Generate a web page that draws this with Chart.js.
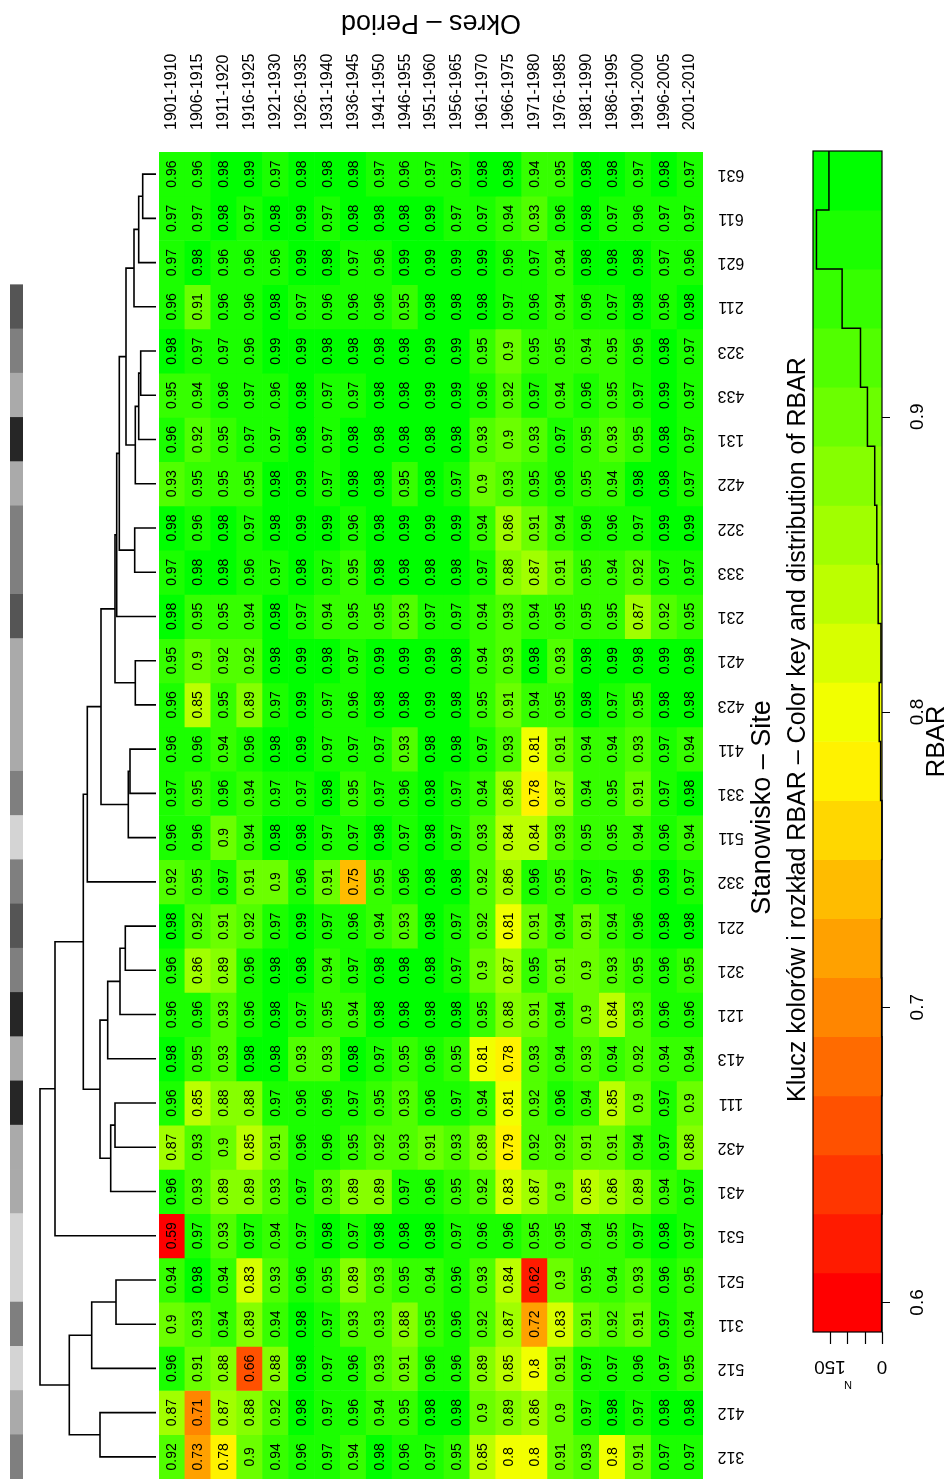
<!DOCTYPE html>
<html>
<head>
<meta charset="utf-8">
<title>RBAR heatmap</title>
<script src="https://cdn.jsdelivr.net/npm/chart.js@4.4.0/dist/chart.umd.min.js"></script>
<style>
  html, body { margin: 0; padding: 0; background: #fff; }
  #page { position: relative; width: 951px; height: 1479px; overflow: hidden; background: #fff; }
  .box { position: absolute; }
</style>
</head>
<body>
<div id="page">
  <div class="box" style="left:10px;top:152px;width:13px;height:1327px"><canvas id="sideChart"></canvas></div>
  <div class="box" style="left:0;top:140px;width:165px;height:1339px"><canvas id="dendroChart"></canvas></div>
  <div class="box" style="left:150px;top:0;width:801px;height:1479px"><canvas id="heatChart"></canvas></div>
  <div class="box" style="left:770px;top:130px;width:181px;height:1280px"><canvas id="keyChart"></canvas></div>
</div>
<script>
// --- Data ---
const periods = ['1901-1910', '1906-1915', '1911-1920', '1916-1925', '1921-1930', '1926-1935', '1931-1940',
    '1936-1945', '1941-1950', '1946-1955', '1951-1960', '1956-1965', '1961-1970', '1966-1975', '1971-1980',
    '1976-1985', '1981-1990', '1986-1995', '1991-2000', '1996-2005', '2001-2010'];

// sites in dendrogram order, top to bottom
const sites = ['631', '611', '621', '211', '323', '433', '131', '422', '322', '333', '231', '421', '423', '411', '331',
    '511', '332', '221', '321', '121', '413', '111', '432', '431', '531', '521', '311', '512', '412', '312'];

// RBAR per site, one value per period
const s631 = [0.96, 0.96, 0.98, 0.99, 0.97, 0.98, 0.98, 0.98, 0.97, 0.96, 0.97, 0.97, 0.98, 0.98, 0.94, 0.95, 0.98, 0.98, 0.97, 0.98, 0.97];
const s611 = [0.97, 0.97, 0.98, 0.97, 0.98, 0.99, 0.97, 0.98, 0.98, 0.98, 0.99, 0.97, 0.97, 0.94, 0.93, 0.96, 0.98, 0.97, 0.96, 0.97, 0.97];
const s621 = [0.97, 0.98, 0.96, 0.96, 0.96, 0.99, 0.98, 0.97, 0.96, 0.99, 0.99, 0.99, 0.99, 0.96, 0.97, 0.94, 0.98, 0.98, 0.98, 0.97, 0.96];
const s211 = [0.96, 0.91, 0.96, 0.96, 0.98, 0.97, 0.96, 0.96, 0.96, 0.95, 0.98, 0.98, 0.98, 0.97, 0.96, 0.94, 0.96, 0.97, 0.98, 0.96, 0.98];
const s323 = [0.98, 0.97, 0.97, 0.96, 0.99, 0.99, 0.98, 0.98, 0.98, 0.98, 0.99, 0.99, 0.95, 0.9, 0.95, 0.95, 0.94, 0.95, 0.96, 0.98, 0.97];
const s433 = [0.95, 0.94, 0.96, 0.97, 0.96, 0.98, 0.97, 0.97, 0.98, 0.98, 0.99, 0.99, 0.96, 0.92, 0.97, 0.94, 0.96, 0.95, 0.97, 0.99, 0.97];
const s131 = [0.96, 0.92, 0.95, 0.97, 0.97, 0.98, 0.97, 0.98, 0.98, 0.98, 0.98, 0.98, 0.93, 0.9, 0.93, 0.97, 0.95, 0.93, 0.95, 0.98, 0.97];
const s422 = [0.93, 0.95, 0.95, 0.95, 0.98, 0.99, 0.97, 0.98, 0.98, 0.95, 0.98, 0.97, 0.9, 0.93, 0.95, 0.96, 0.95, 0.94, 0.98, 0.98, 0.97];
const s322 = [0.98, 0.96, 0.98, 0.97, 0.98, 0.99, 0.99, 0.96, 0.98, 0.99, 0.99, 0.99, 0.94, 0.86, 0.91, 0.94, 0.96, 0.96, 0.97, 0.99, 0.99];
const s333 = [0.97, 0.98, 0.98, 0.96, 0.97, 0.98, 0.97, 0.95, 0.98, 0.98, 0.98, 0.98, 0.97, 0.88, 0.87, 0.91, 0.95, 0.94, 0.92, 0.97, 0.97];
const s231 = [0.98, 0.95, 0.95, 0.94, 0.98, 0.97, 0.94, 0.95, 0.95, 0.93, 0.97, 0.97, 0.94, 0.93, 0.94, 0.95, 0.95, 0.95, 0.87, 0.92, 0.95];
const s421 = [0.95, 0.9, 0.92, 0.92, 0.98, 0.99, 0.98, 0.97, 0.99, 0.99, 0.99, 0.98, 0.94, 0.93, 0.98, 0.93, 0.98, 0.99, 0.98, 0.99, 0.98];
const s423 = [0.96, 0.85, 0.95, 0.89, 0.97, 0.99, 0.97, 0.96, 0.98, 0.98, 0.99, 0.98, 0.95, 0.91, 0.94, 0.95, 0.98, 0.97, 0.95, 0.98, 0.98];
const s411 = [0.96, 0.96, 0.94, 0.96, 0.98, 0.99, 0.97, 0.97, 0.97, 0.93, 0.98, 0.98, 0.97, 0.93, 0.81, 0.91, 0.94, 0.94, 0.93, 0.97, 0.94];
const s331 = [0.97, 0.95, 0.96, 0.94, 0.97, 0.97, 0.98, 0.95, 0.97, 0.96, 0.98, 0.97, 0.94, 0.86, 0.78, 0.87, 0.94, 0.95, 0.91, 0.97, 0.98];
const s511 = [0.96, 0.96, 0.9, 0.94, 0.98, 0.98, 0.97, 0.97, 0.98, 0.97, 0.98, 0.97, 0.93, 0.84, 0.84, 0.93, 0.95, 0.95, 0.94, 0.96, 0.94];
const s332 = [0.92, 0.95, 0.97, 0.91, 0.9, 0.96, 0.91, 0.75, 0.95, 0.96, 0.98, 0.98, 0.92, 0.86, 0.96, 0.95, 0.97, 0.97, 0.96, 0.99, 0.97];
const s221 = [0.98, 0.92, 0.91, 0.92, 0.97, 0.99, 0.97, 0.96, 0.94, 0.93, 0.98, 0.97, 0.92, 0.81, 0.91, 0.94, 0.91, 0.94, 0.96, 0.98, 0.98];
const s321 = [0.96, 0.86, 0.89, 0.96, 0.98, 0.98, 0.94, 0.97, 0.98, 0.98, 0.98, 0.97, 0.9, 0.87, 0.95, 0.91, 0.9, 0.93, 0.95, 0.96, 0.95];
const s121 = [0.96, 0.96, 0.93, 0.96, 0.98, 0.97, 0.95, 0.94, 0.98, 0.98, 0.98, 0.98, 0.95, 0.88, 0.91, 0.94, 0.9, 0.84, 0.93, 0.96, 0.96];
const s413 = [0.98, 0.95, 0.93, 0.98, 0.98, 0.93, 0.93, 0.98, 0.97, 0.95, 0.96, 0.95, 0.81, 0.78, 0.93, 0.94, 0.93, 0.94, 0.92, 0.94, 0.94];
const s111 = [0.96, 0.85, 0.88, 0.88, 0.97, 0.96, 0.96, 0.97, 0.95, 0.93, 0.96, 0.97, 0.94, 0.81, 0.92, 0.96, 0.94, 0.85, 0.9, 0.97, 0.9];
const s432 = [0.87, 0.93, 0.9, 0.85, 0.91, 0.96, 0.96, 0.95, 0.92, 0.93, 0.91, 0.93, 0.89, 0.79, 0.92, 0.92, 0.91, 0.91, 0.94, 0.97, 0.88];
const s431 = [0.96, 0.93, 0.89, 0.89, 0.93, 0.97, 0.93, 0.89, 0.89, 0.97, 0.96, 0.95, 0.92, 0.83, 0.87, 0.9, 0.85, 0.86, 0.89, 0.94, 0.97];
const s531 = [0.59, 0.97, 0.93, 0.97, 0.94, 0.97, 0.98, 0.97, 0.98, 0.98, 0.98, 0.97, 0.96, 0.96, 0.95, 0.95, 0.94, 0.95, 0.97, 0.98, 0.97];
const s521 = [0.94, 0.98, 0.94, 0.83, 0.93, 0.96, 0.95, 0.89, 0.93, 0.95, 0.94, 0.96, 0.93, 0.84, 0.62, 0.9, 0.95, 0.94, 0.93, 0.96, 0.95];
const s311 = [0.9, 0.93, 0.94, 0.89, 0.94, 0.98, 0.97, 0.93, 0.93, 0.88, 0.95, 0.96, 0.92, 0.87, 0.72, 0.83, 0.91, 0.92, 0.91, 0.97, 0.94];
const s512 = [0.96, 0.91, 0.88, 0.66, 0.88, 0.98, 0.97, 0.96, 0.93, 0.91, 0.96, 0.96, 0.89, 0.85, 0.8, 0.91, 0.97, 0.97, 0.96, 0.97, 0.95];
const s412 = [0.87, 0.71, 0.87, 0.88, 0.92, 0.98, 0.97, 0.96, 0.94, 0.95, 0.98, 0.98, 0.9, 0.89, 0.86, 0.9, 0.97, 0.98, 0.97, 0.98, 0.98];
const s312 = [0.92, 0.73, 0.78, 0.9, 0.94, 0.96, 0.97, 0.94, 0.98, 0.96, 0.97, 0.95, 0.85, 0.8, 0.8, 0.91, 0.93, 0.8, 0.91, 0.97, 0.97];

const rbarRows = [s631, s611, s621, s211, s323, s433, s131, s422, s322, s333, s231, s421, s423, s411, s331,
    s511, s332, s221, s321, s121, s413, s111, s432, s431, s531, s521, s311, s512, s412, s312];

// site clustering, hclust style: negative = site (1-based, top to bottom), positive = earlier merge
const mergeLeft = [-1, 1, 2, -5, 4, 5, 3, -9, 7, 9, -12, 10, -14, 13, 12, 15, -18, 17, 18, -22, 20, 19, 16, 23, -26, 25, -29, 26, 24];
const mergeRight = [-2, -3, -4, -6, -7, -8, 6, -10, 8, -11, -13, 11, -15, -16, 14, -17, -19, -20, -21, -23, -24, 21, 22, -25, -27, -28, -30, 27, 28];
const mergeHeight = [0.133, 0.173, 0.22, 0.153, 0.173, 0.207, 0.30, 0.213, 0.367, 0.393, 0.207, 0.41, 0.26, 0.277, 0.55,
    0.687, 0.307, 0.36, 0.483, 0.41, 0.453, 0.56, 0.727, 1.01, 0.40, 0.643, 0.56, 0.867, 1.16];

// grey shade per site group (first digit of the site code)
const groupGreys = ['#262626', '#555555', '#7f7f7f', '#aaaaaa', '#d4d4d4', '#ffffff'];

// colour key
const keyMin = 0.59;
const keyMax = 0.99;
const keyBands = 20;
const keyTicks = [0.6, 0.7, 0.8, 0.9];
const countTicks = [0, 50, 100, 150];
const countLabels = [0, 150];

const FONT = '"Liberation Sans", Arial, Helvetica, sans-serif';

// --- Helpers ---
const bandWidth = (keyMax - keyMin) / keyBands;
const keyBreaks = [];
for (let i = 0; i <= keyBands; i++) keyBreaks.push(keyMin + i * bandWidth);

// red -> yellow -> green ramp
function bandColor(k) {
    const t = k / (keyBands - 1);
    const r = t <= 0.5 ? 255 : Math.round(255 * (2 - 2 * t));
    const g = t <= 0.5 ? Math.round(510 * t) : 255;
    return `rgb(${r},${g},0)`;
}
const bandColors = [];
for (let k = 0; k < keyBands; k++) bandColors.push(bandColor(k));

// intervals closed on the right, like hist()
function bandIndex(v) {
    const k = Math.ceil((v - keyMin) / bandWidth - 1e-6) - 1;
    return Math.min(keyBands - 1, Math.max(0, k));
}

const histCounts = new Array(keyBands).fill(0);
rbarRows.forEach(row => row.forEach(v => { histCounts[bandIndex(v)]++; }));
const countMax = Math.max(...histCounts);

function drawText(ctx, text, x, y, angle, align) {
    ctx.save();
    ctx.translate(x, y);
    ctx.rotate(angle);
    ctx.textAlign = align || 'center';
    ctx.fillText(text, 0, 0);
    ctx.restore();
}

const baseOptions = {
    animation: false,
    responsive: true,
    maintainAspectRatio: false,
    events: [],
    plugins: { legend: { display: false }, tooltip: { enabled: false } }
};

// --- Heatmap ---
const heatLabels = {
    id: 'heatLabels',
    afterDatasetsDraw(chart) {
        const { ctx, chartArea: a, scales: { x, y } } = chart;
        ctx.save();
        ctx.fillStyle = '#000';
        ctx.textBaseline = 'middle';

        // cell values
        ctx.font = '14px ' + FONT;
        rbarRows.forEach((row, r) => {
            const py = y.getPixelForValue(r + 0.5);
            row.forEach((v, c) => drawText(ctx, String(v), x.getPixelForValue(c) + 0.5, py, -Math.PI / 2));
        });

        // period labels above the columns
        ctx.font = '16px ' + FONT;
        periods.forEach((p, c) => drawText(ctx, p, x.getPixelForValue(c), a.top - 22, -Math.PI / 2, 'left'));

        // site labels on the right, upside down
        sites.forEach((s, r) => drawText(ctx, s, a.right + 28, y.getPixelForValue(r + 0.5), Math.PI));

        // axis titles
        ctx.font = '27px ' + FONT;
        drawText(ctx, 'Okres – Period', (a.left + a.right) / 2, 22, Math.PI);
        drawText(ctx, 'Stanowisko – Site', a.right + 60, (a.top + a.bottom) / 2 - 8, -Math.PI / 2);
        ctx.restore();
    }
};

new Chart(document.getElementById('heatChart'), {
    type: 'bar',
    data: {
        labels: periods,
        datasets: sites.map((site, r) => ({
            label: site,
            data: periods.map(() => [r, r + 1]),
            backgroundColor: rbarRows[r].map(v => bandColors[bandIndex(v)]),
            borderWidth: 0,
            barPercentage: 1,
            categoryPercentage: 1,
            grouped: false
        }))
    },
    options: {
        ...baseOptions,
        layout: { padding: { left: 9, right: 248, top: 152, bottom: 0 } },
        scales: {
            x: { type: 'category', offset: true, display: false },
            y: { type: 'linear', min: 0, max: sites.length, reverse: true, display: false }
        }
    },
    plugins: [heatLabels]
});

// --- Dendrogram ---
const nodeY = [];
function nodePos(ref) {
    if (ref < 0) return { h: 0, y: -ref - 0.5 };
    return { h: mergeHeight[ref - 1], y: nodeY[ref - 1] };
}
const dendroSets = mergeLeft.map((left, i) => {
    const a = nodePos(left);
    const b = nodePos(mergeRight[i]);
    nodeY[i] = (a.y + b.y) / 2;
    const h = mergeHeight[i];
    return {
        data: [{ x: a.h, y: a.y }, { x: h, y: a.y }, { x: h, y: b.y }, { x: b.h, y: b.y }],
        borderColor: '#000',
        borderWidth: 1.6,
        pointRadius: 0,
        tension: 0,
        fill: false,
        clip: false
    };
});

new Chart(document.getElementById('dendroChart'), {
    type: 'line',
    data: { datasets: dendroSets },
    options: {
        ...baseOptions,
        layout: { padding: { left: 40, right: 9, top: 12, bottom: 0 } },
        scales: {
            x: { type: 'linear', min: 0, max: Math.max(...mergeHeight), reverse: true, display: false },
            y: { type: 'linear', min: 0, max: sites.length, reverse: true, display: false }
        }
    }
});

// --- Site group bar ---
new Chart(document.getElementById('sideChart'), {
    type: 'bar',
    data: {
        labels: sites,
        datasets: [{
            data: sites.map(() => [0, 1]),
            backgroundColor: sites.map(s => groupGreys[Number(s[0]) - 1]),
            borderWidth: 0,
            barPercentage: 1,
            categoryPercentage: 1
        }]
    },
    options: {
        ...baseOptions,
        indexAxis: 'y',
        scales: {
            x: { min: 0, max: 1, display: false },
            y: { display: false }
        }
    }
});

// --- Colour key with histogram ---
const keyFrame = {
    id: 'keyFrame',
    afterDraw(chart) {
        const { ctx, chartArea: a, scales: { x, y } } = chart;
        ctx.save();
        ctx.strokeStyle = '#000';
        ctx.lineWidth = 1.2;
        ctx.strokeRect(a.left, a.top, a.right - a.left, a.bottom - a.top);
        ctx.beginPath();
        keyTicks.forEach(v => {
            const py = Math.round(y.getPixelForValue(v)) + 0.5;
            ctx.moveTo(a.right, py);
            ctx.lineTo(a.right + 8, py);
        });
        countTicks.forEach(n => {
            const px = Math.round(x.getPixelForValue(n)) + 0.5;
            ctx.moveTo(px, a.bottom);
            ctx.lineTo(px, a.bottom + 12);
        });
        ctx.stroke();

        ctx.fillStyle = '#000';
        ctx.textBaseline = 'middle';
        ctx.font = '19px ' + FONT;
        keyTicks.forEach(v => drawText(ctx, String(v), a.right + 36, y.getPixelForValue(v), -Math.PI / 2));
        countLabels.forEach(n => drawText(ctx, String(n), x.getPixelForValue(n), a.bottom + 34, Math.PI));
        ctx.font = '11px ' + FONT;
        drawText(ctx, 'N', a.left + 35, a.bottom + 52, Math.PI);
        ctx.font = '26px ' + FONT;
        drawText(ctx, 'RBAR', a.right + 55, (a.top + a.bottom) / 2, -Math.PI / 2);
        ctx.font = '25px ' + FONT;
        drawText(ctx, 'Klucz kolorów i rozkład RBAR – Color key and distribution of RBAR',
            a.left - 15, (a.top + a.bottom) / 2 - 12, -Math.PI / 2);
        ctx.restore();
    }
};

const keySteps = histCounts.map((n, k) => ({ x: n, y: keyBreaks[k] }));
keySteps.push({ x: histCounts[keyBands - 1], y: keyBreaks[keyBands] });

new Chart(document.getElementById('keyChart'), {
    data: {
        datasets: [{
            type: 'line',
            data: keySteps,
            stepped: 'after',
            borderColor: '#000',
            borderWidth: 1.5,
            pointRadius: 0,
            fill: false,
            clip: false,
            order: 1
        }, {
            type: 'bar',
            data: bandColors.map((c, k) => ({ y: (keyBreaks[k] + keyBreaks[k + 1]) / 2, x: [0, countMax / 0.95] })),
            backgroundColor: bandColors,
            borderWidth: 0,
            barPercentage: 1,
            categoryPercentage: 1,
            order: 2
        }]
    },
    options: {
        ...baseOptions,
        indexAxis: 'y',
        layout: { padding: { left: 43, right: 69, top: 21, bottom: 78 } },
        scales: {
            x: { type: 'linear', min: 0, max: countMax / 0.95, reverse: true, display: false },
            y: {
                type: 'linear', min: keyMin, max: keyMax, offset: false, display: false,
                // only the labelled ticks, so the band height comes from the data spacing
                afterBuildTicks: s => { s.ticks = keyTicks.map(v => ({ value: v })); }
            }
        }
    },
    plugins: [keyFrame]
});
</script>
</body>
</html>
